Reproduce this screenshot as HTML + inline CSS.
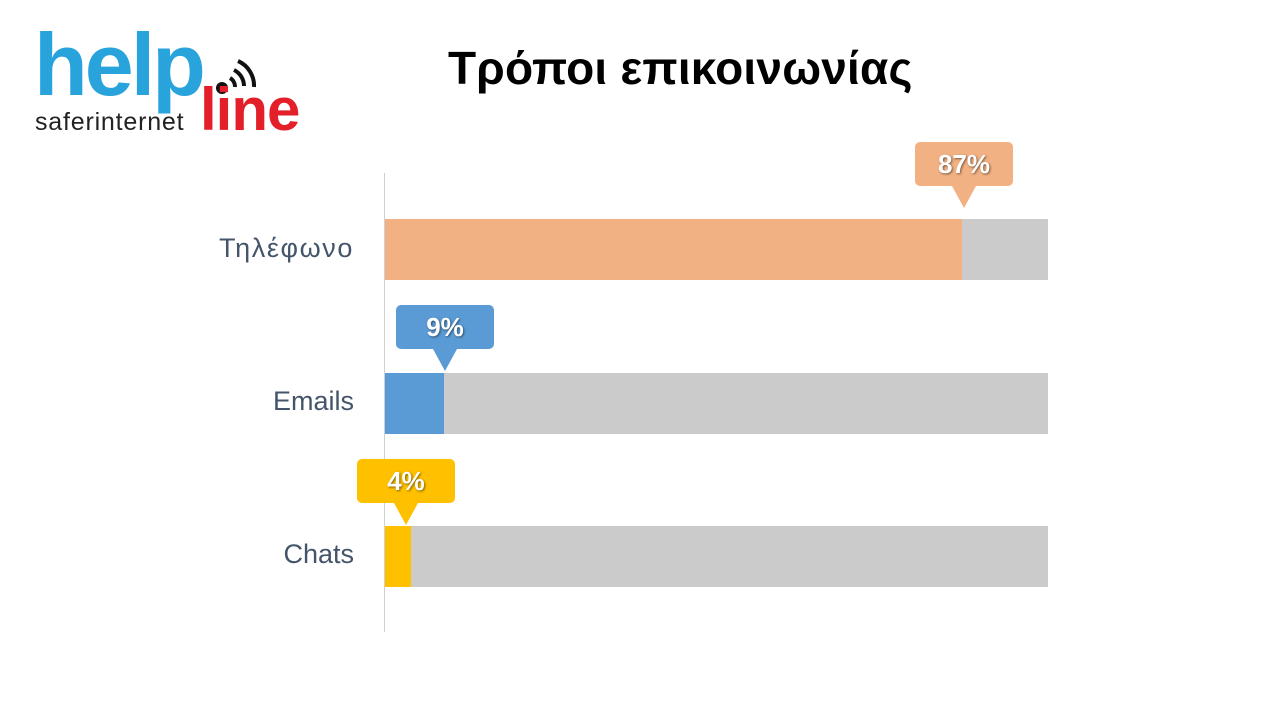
<!DOCTYPE html>
<html><head><meta charset="utf-8"><style>
body{margin:0;width:1280px;height:720px;background:#fff;position:relative;overflow:hidden;font-family:"Liberation Sans","DejaVu Sans",sans-serif}
.a{position:absolute}
.lbl{position:absolute;right:926px;font-size:27px;color:#44546a;font-family:"Liberation Sans","DejaVu Sans",sans-serif}
.bar{position:absolute;left:385px;width:663px;height:61px;background:#cbcbcb}
.fill{position:absolute;left:0;top:0;height:100%}
.co{position:absolute;width:98px;height:44px;border-radius:5px;color:#fff;font-weight:bold;font-size:26px;text-align:center;line-height:44px;text-shadow:1px 1px 2px rgba(0,0,0,.5)}
.co:after{content:"";position:absolute;left:37px;top:44px;border-left:12px solid transparent;border-right:12px solid transparent;border-top:22px solid var(--c)}
</style></head><body>
<div class="a" style="left:34px;top:21px;font-size:88px;font-weight:bold;color:#29a3dc;letter-spacing:-3px;line-height:1">help</div>
<svg class="a" style="left:210px;top:50px" width="60" height="50"><circle cx="12" cy="38" r="6" fill="#111"/><path d="M20 28 a10 10 0 0 1 5 9 M24 20 a18 18 0 0 1 10 16 M28 11 a27 27 0 0 1 16 26" stroke="#111" stroke-width="4" fill="none"/></svg>
<div class="a" style="left:200px;top:80px;font-size:60px;font-weight:bold;color:#e3202a;letter-spacing:-1px;line-height:1">line</div>
<div class="a" style="left:35px;top:110px;font-size:25px;color:#222;line-height:1;letter-spacing:0.8px">saferinternet</div>
<div class="a" style="left:448px;top:43px;font-size:46px;font-weight:bold;color:#000;line-height:1.1;letter-spacing:0.2px">Τρόποι επικοινωνίας</div>
<div class="a" style="left:384px;top:173px;width:1px;height:459px;background:#d0d0d0"></div>
<div class="lbl" style="top:233px;letter-spacing:1.6px">Τηλέφωνο</div>
<div class="lbl" style="top:386px">Emails</div>
<div class="lbl" style="top:539px">Chats</div>
<div class="bar" style="top:219px"><div class="fill" style="width:577px;background:#f2b183"></div></div>
<div class="bar" style="top:373px"><div class="fill" style="width:59px;background:#5b9bd5"></div></div>
<div class="bar" style="top:526px"><div class="fill" style="width:26px;background:#ffc000"></div></div>
<div class="co" style="left:915px;top:142px;background:#f2b183;--c:#f2b183">87%</div>
<div class="co" style="left:396px;top:305px;background:#5b9bd5;--c:#5b9bd5">9%</div>
<div class="co" style="left:357px;top:459px;background:#ffc000;--c:#ffc000">4%</div>
</body></html>
